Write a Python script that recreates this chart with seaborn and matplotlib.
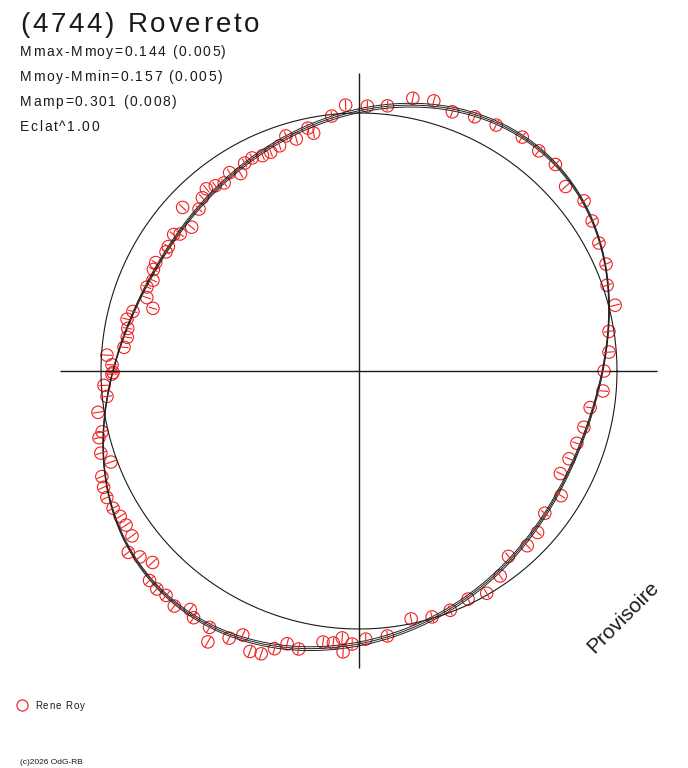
import numpy as np
import pandas as pd
import matplotlib
matplotlib.use("Agg")
import matplotlib.pyplot as plt
import seaborn as sns
from matplotlib.collections import LineCollection
from matplotlib.font_manager import FontProperties, findfont
from matplotlib.ft2font import FT2Font

# observations: rotational phase and magnitude relative to the mean (Mmoy)
phase = [0.005, 0.017, 0.031, 0.043, 0.055, 0.068, 0.081, 0.097, 0.109, 0.121,
         0.134, 0.147, 0.159, 0.172, 0.185, 0.197, 0.210, 0.225, 0.238, 0.250,
         0.263, 0.275, 0.289, 0.301, 0.313, 0.325, 0.338, 0.354, 0.367, 0.378,
         0.392, 0.404, 0.417, 0.429, 0.442, 0.454, 0.467, 0.483, 0.496, 0.504,
         0.509, 0.510, 0.515, 0.521, 0.534, 0.541, 0.547, 0.553, 0.559, 0.566,
         0.572, 0.581, 0.584, 0.594, 0.598, 0.606, 0.613, 0.619, 0.625, 0.631,
         0.638, 0.644, 0.650, 0.657, 0.663, 0.669, 0.676, 0.682, 0.688, 0.694,
         0.701, 0.710, 0.713, 0.725, 0.734, 0.741, 0.748, 0.749, 0.754, 0.760,
         0.766, 0.773, 0.779, 0.785, 0.791, 0.797, 0.803, 0.810, 0.816, 0.823,
         0.828, 0.838, 0.842, 0.851, 0.854, 0.863, 0.869, 0.876, 0.883, 0.889,
         0.895, 0.901, 0.908, 0.914, 0.920, 0.926, 0.933, 0.939, 0.946, 0.952,
         0.958, 0.967, 0.970, 0.983, 0.992]
dmag = [-0.029, -0.036, -0.081, -0.090, -0.071, -0.086, -0.095, -0.109, -0.105, -0.108,
        -0.077, -0.097, -0.078, -0.057, -0.046, -0.019, -0.027, 0.021, 0.031, 0.056,
        0.057, 0.106, 0.116, 0.127, 0.136, 0.144, 0.090, 0.106, 0.075, 0.067,
        0.087, 0.039, 0.007, 0.022, 0.008, 0.006, 0.020, -0.035, -0.042, -0.062,
        -0.094, -0.039, -0.062, -0.063, -0.106, -0.097, -0.128, -0.161, -0.167, -0.121,
        -0.153, -0.200, -0.152, -0.153, -0.135, -0.160, -0.149, -0.154, -0.150, -0.095,
        -0.117, -0.140, -0.091, -0.086, -0.087, -0.095, -0.097, -0.091, -0.081, -0.026,
        -0.053, -0.043, -0.025, -0.026, 0.020, 0.011, 0.047, 0.052, 0.047, 0.023,
        0.096, 0.105, 0.101, 0.089, 0.107, 0.196, 0.151, 0.134, 0.148, 0.128,
        0.123, 0.140, 0.136, 0.124, 0.147, 0.170, 0.076, 0.136, 0.108, 0.089,
        0.104, 0.118, 0.093, 0.124, 0.091, 0.086, 0.097, 0.097, 0.084, 0.051,
        0.077, 0.042, 0.069, 0.007, -0.034]
mag_err = 0.022

title = "(4744) Rovereto"
stats = ["Mmax-Mmoy=0.144 (0.005)", "Mmoy-Mmin=0.157 (0.005)",
         "Mamp=0.301 (0.008)", "Eclat^1.00"]
observer = "Rene Roy"
fourier_order = 4
band = [(-0.005, 0.002), (0.0, 0.0), (0.005, -0.002)]

W, H = 688, 768
FAMILY = "Liberation Sans"
INK = "#1a1a1a"
RED = "#f02020"


def to_xy(ph, dm):
    # radius = brightness (flux ^ 1.00), phase runs clockwise from the top
    ang = np.pi / 2 - 2 * np.pi * np.asarray(ph)
    r = 10 ** (-0.4 * np.asarray(dm))
    return r * np.cos(ang), r * np.sin(ang)


def design(ph):
    cols = [np.ones_like(ph)]
    for k in range(1, fourier_order + 1):
        cols += [np.cos(2 * np.pi * k * ph), np.sin(2 * np.pi * k * ph)]
    return np.column_stack(cols)


def spaced_text(x_px, base_px, s, size, gap_px):
    # the original labels are drawn a little letter-spaced
    font = FT2Font(findfont(FontProperties(family=FAMILY)))
    font.set_size(size, 100)
    x = x_px
    for ch in s:
        fig.text(x / W, 1 - base_px / H, ch, fontsize=size, family=FAMILY,
                 color=INK, va="baseline")
        x += font.load_char(ord(ch)).linearHoriAdvance / 65536 + gap_px


ph = np.array(phase)
dm = np.array(dmag)
coef = np.linalg.lstsq(design(ph), dm, rcond=None)[0]

df = pd.DataFrame({"phase": ph, "dmag": dm})
df["x"], df["y"] = to_xy(df.phase, df.dmag)

sns.set_theme(style="white")
plt.rcParams["font.family"] = [FAMILY, "DejaVu Sans"]

fig = plt.figure(figsize=(W / 100, H / 100), dpi=100)
ax = fig.add_axes([0, 0, 1, 1])
ax.set_xlim(-359 / 258, 329 / 258)
ax.set_ylim(-397 / 258, 371 / 258)
ax.axis("off")

# axes cross and mean-brightness circle
ax.hlines(0, -1.159, 1.155, color=INK, lw=1.0)
ax.vlines(0, -1.151, 1.155, color=INK, lw=1.0)
t = np.linspace(0, 2 * np.pi, 400)
ax.plot(np.cos(t), np.sin(t), color=INK, lw=0.8)

# fitted curve with its uncertainty band
grid = np.linspace(0, 1, 721)
for dm_off, ph_off in band:
    fx, fy = to_xy(grid, design(grid + ph_off) @ coef + dm_off)
    sns.lineplot(x=fx, y=fy, sort=False, estimator=None, ax=ax,
                 color="#222222", lw=0.7)

# radial error bars
x0, y0 = to_xy(df.phase, df.dmag - mag_err)
x1, y1 = to_xy(df.phase, df.dmag + mag_err)
segs = np.stack([np.column_stack([x0, y0]), np.column_stack([x1, y1])], axis=1)
ax.add_collection(LineCollection(segs, colors=RED, lw=0.8))

sns.scatterplot(data=df, x="x", y="y", ax=ax, marker="o", s=80,
                facecolors="none", edgecolor=RED, linewidth=0.8)

spaced_text(20, 32, title, 20, 2.8)
for i, line in enumerate(stats):
    spaced_text(20, 56 + 25 * i, line, 10, 1.6)

fig.text(623 / W, 1 - 617 / H, "Provisoire", fontsize=15, rotation=45,
         color=INK, ha="center", va="center")

fig.lines.append(plt.Line2D([22 / W], [1 - 705 / H], transform=fig.transFigure,
                            marker="o", ms=8, mfc="none", mec="#e03030", mew=0.9))
spaced_text(35, 709, observer, 7, 0.9)
fig.text(20 / W, 1 - 763 / H, "(c)2026 OdG-RB", fontsize=6, color=INK,
         va="center")

fig.savefig("out.png", dpi=100)
